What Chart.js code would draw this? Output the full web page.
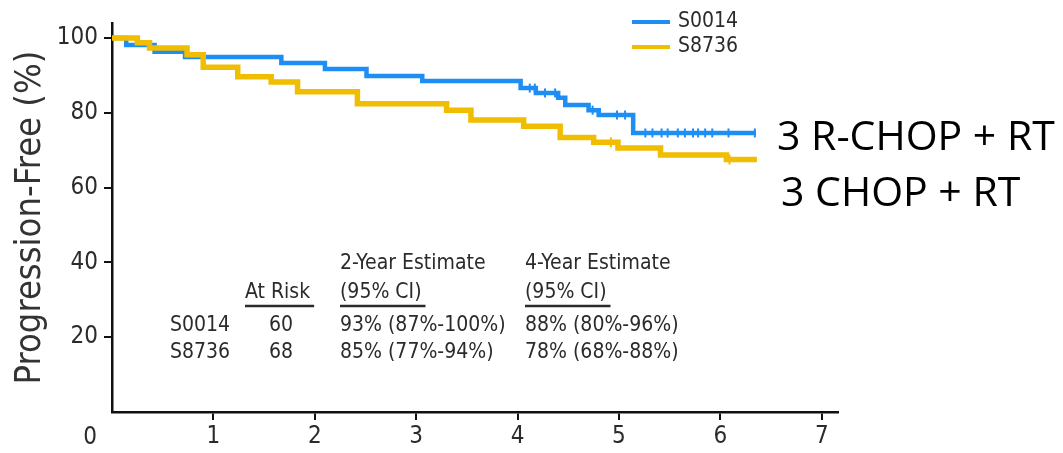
<!DOCTYPE html>
<html>
<head>
<meta charset="utf-8">
<script src="https://cdn.jsdelivr.net/npm/chart.js@4/dist/chart.umd.min.js"></script>
<style>
  html, body { margin: 0; padding: 0; background: #fff; }
  #wrap { width: 1063px; height: 453px; }
</style>
</head>
<body>
<div id="wrap"><canvas id="pfs" width="1063" height="453"></canvas></div>
<script>
// Kaplan-Meier progression-free survival, two study arms
const armNames = ["S0014", "S8736"];
const armLabels = ["3 R-CHOP + RT", "3 CHOP + RT"];
const armColors = ["#1e8ef5", "#f0bd00"];

// event times (years) and survival (%) after each step
const s0014Years = [0, 0.14, 0.42, 0.72, 1.67, 2.10, 2.51, 3.06, 4.03, 4.18, 4.40, 4.47, 4.70, 4.80, 5.14, 6.35];
const s0014Pct   = [100, 98.1, 96.3, 94.9, 93.3, 91.7, 89.8, 88.5, 86.6, 85.3, 84.0, 82.1, 80.7, 79.4, 74.6, 74.6];
const s0014Censored = [4.12, 4.17, 4.27, 4.37, 4.74, 4.98, 5.06, 5.26, 5.33, 5.42, 5.48, 5.58, 5.65, 5.73, 5.78, 5.85, 5.92, 6.08, 6.34];

const s8736Years = [0, 0.25, 0.37, 0.74, 0.90, 1.24, 1.57, 1.83, 2.42, 3.30, 3.54, 4.06, 4.42, 4.75, 4.99, 5.41, 6.06, 6.36];
const s8736Pct   = [100, 98.7, 97.3, 95.5, 92.2, 89.6, 88.2, 85.6, 82.4, 80.7, 78.1, 76.4, 73.4, 72.1, 70.6, 68.7, 67.5, 67.5];
const s8736Censored = [4.92, 6.09];

const xTicks = [1, 2, 3, 4, 5, 6, 7];
const yTicks = [20, 40, 60, 80, 100];

// summary table
const atRisk = [60, 68];
const est2Year = ["93% (87%-100%)", "85% (77%-94%)"];
const est4Year = ["88% (80%-96%)", "78% (68%-88%)"];

const FONT = "'DejaVu Sans Condensed', 'DejaVu Sans', sans-serif";
const INK = "#2b2b2b";

const stepPoints = (years, pct) => years.map((x, i) => ({ x, y: pct[i] }));
const valueAt = (years, pct, t) => {
  let v = pct[0];
  for (let i = 0; i < years.length; i++) if (years[i] <= t) v = pct[i];
  return v;
};
const censorPoints = (times, years, pct) => times.map(t => ({ x: t, y: valueAt(years, pct, t) }));

const overlay = {
  id: "overlay",
  afterDraw(chart) {
    const ctx = chart.ctx;
    const xs = chart.scales.x;
    const area = chart.chartArea;
    ctx.save();

    // origin label
    ctx.fillStyle = INK;
    ctx.font = "24px " + FONT;
    ctx.textAlign = "center";
    ctx.textBaseline = "middle";
    ctx.fillText("0", xs.getPixelForValue(0) - 22, area.bottom + 26);

    // legend
    ctx.font = "21px " + FONT;
    ctx.textAlign = "left";
    armNames.forEach((name, i) => {
      const y = 22 + i * 25;
      ctx.strokeStyle = armColors[i];
      ctx.lineWidth = 4;
      ctx.beginPath();
      ctx.moveTo(632, y);
      ctx.lineTo(670, y);
      ctx.stroke();
      ctx.fillStyle = INK;
      ctx.fillText(name, 678, y);
    });

    // arm annotations
    ctx.fillStyle = "#000";
    ctx.font = "41px 'Open Sans', sans-serif";
    ctx.fillText(armLabels[0], 777, 138);
    ctx.fillText(armLabels[1], 781, 194);

    // table
    ctx.fillStyle = INK;
    ctx.strokeStyle = INK;
    ctx.font = "21px " + FONT;
    ctx.fillText("2-Year Estimate", 340, 264);
    ctx.fillText("4-Year Estimate", 525, 264);
    const underlined = [["At Risk", 245], ["(95% CI)", 340], ["(95% CI)", 525]];
    ctx.lineWidth = 2.5;
    underlined.forEach(([t, x]) => {
      ctx.fillText(t, x, 293);
      const w = ctx.measureText(t).width;
      ctx.beginPath();
      ctx.moveTo(x, 306);
      ctx.lineTo(x + w + 4, 306);
      ctx.stroke();
    });
    armNames.forEach((name, i) => {
      const y = 326 + i * 27;
      ctx.textAlign = "left";
      ctx.fillText(name, 170, y);
      ctx.fillText(est2Year[i], 340, y);
      ctx.fillText(est4Year[i], 525, y);
      ctx.textAlign = "center";
      ctx.fillText(String(atRisk[i]), 281, y);
    });
    ctx.restore();
  }
};

const axisGrid = { display: true, drawOnChartArea: false, drawTicks: true, tickLength: 8, color: "#111", lineWidth: 2 };

new Chart(document.getElementById("pfs"), {
  type: "line",
  data: {
    datasets: [
      {
        label: armNames[0],
        data: stepPoints(s0014Years, s0014Pct),
        stepped: true,
        borderColor: armColors[0],
        borderWidth: 4.5,
        pointRadius: 0,
        fill: false,
        order: 2,
      },
      {
        label: armNames[1],
        data: stepPoints(s8736Years, s8736Pct),
        stepped: true,
        borderColor: armColors[1],
        borderWidth: 5.5,
        pointRadius: 0,
        fill: false,
        order: 1,
      },
      {
        type: "scatter",
        label: armNames[0] + " censored",
        data: censorPoints(s0014Censored, s0014Years, s0014Pct),
        pointStyle: "line",
        rotation: 90,
        pointRadius: 4.5,
        borderColor: armColors[0],
        borderWidth: 2,
        order: 0,
      },
      {
        type: "scatter",
        label: armNames[1] + " censored",
        data: censorPoints(s8736Censored, s8736Years, s8736Pct),
        pointStyle: "line",
        rotation: 90,
        pointRadius: 5,
        borderColor: armColors[1],
        borderWidth: 2,
        order: 0,
      },
    ],
  },
  options: {
    responsive: false,
    animation: false,
    layout: { padding: { left: 0, top: 23, right: 225, bottom: 0 } },
    plugins: { legend: { display: false }, tooltip: { enabled: false } },
    scales: {
      x: {
        type: "linear",
        min: 0,
        max: 7.16,
        afterBuildTicks: (s) => { s.ticks = xTicks.map(v => ({ value: v })); },
        afterFit: (s) => { s.height = 41; },
        grid: axisGrid,
        border: { display: true, color: "#111", width: 2.5 },
        ticks: { font: { family: FONT, size: 24 }, color: INK, padding: 2, maxRotation: 0 },
      },
      y: {
        type: "linear",
        min: 0,
        max: 104,
        afterBuildTicks: (s) => { s.ticks = yTicks.map(v => ({ value: v })); },
        afterFit: (s) => { s.width = 112; },
        grid: axisGrid,
        border: { display: true, color: "#111", width: 2.5 },
        ticks: { font: { family: FONT, size: 24 }, color: INK, padding: 6 },
        title: {
          display: true,
          text: "Progression-Free (%)",
          font: { family: FONT, size: 36 },
          color: "#333",
          padding: { top: 9, bottom: 0 },
        },
      },
    },
  },
  plugins: [overlay],
});
</script>
</body>
</html>
